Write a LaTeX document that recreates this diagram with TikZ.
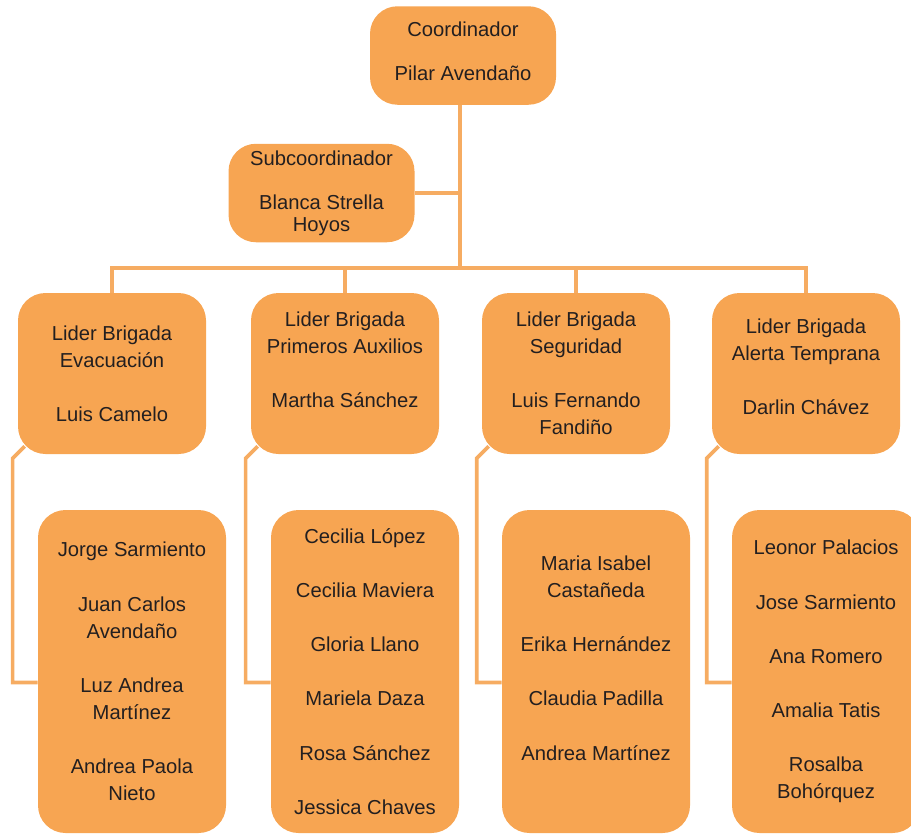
\documentclass[tikz,border=0pt]{standalone}
\usepackage{fontspec}
\setmainfont{Liberation Sans}
\definecolor{naranja}{RGB}{247,165,82}
\definecolor{linea}{RGB}{246,172,98}
\definecolor{texto}{RGB}{35,31,32}
\newcommand{\salto}{\\[15.4pt]}
\begin{document}
\begin{tikzpicture}[
    caja/.style={fill=naranja, rounded corners=0.55cm, align=center, text=texto,
      font=\fontsize{11.5}{15.4}\selectfont, minimum width=3.76cm, inner sep=0pt},
    jefe/.style={caja, minimum width=3.72cm, minimum height=1.97cm},
    lider/.style={caja, minimum height=3.22cm},
    grupo/.style={caja, minimum height=6.46cm},
    enlace/.style={draw=linea, line width=2.1pt}
  ]
    \useasboundingbox (0, 0) rectangle (18.22, -16.68);

    % coordinacion
    \node[jefe] (coord) at (9.26, -1.11) {Coordinador\\[0.34cm]Pilar Avendaño\\[-10.9pt]~};
    \node[jefe] (sub) at (6.43, -3.86) {Subcoordinador\\[0.34cm]Blanca Strella\\[-0.1cm]Hoyos};
    \coordinate (barra) at (9.2, -5.36);

    % lideres de brigada
    \node[lider] (l1) at (2.24, -7.47) {Lider Brigada\\Evacuación\salto Luis Camelo};
    \node[lider] (l2) at (6.90, -7.47) {Lider Brigada\\Primeros Auxilios\salto Martha Sánchez\\ ~};
    \node[lider] (l3) at (11.52, -7.47) {Lider Brigada\\Seguridad\salto Luis Fernando\\Fandiño};
    \node[lider] (l4) at (16.12, -7.47) {Lider Brigada\\Alerta Temprana\salto Darlin Chávez\\[-7.4pt]~};

    % integrantes
    \node[grupo] (m1) at (2.64, -13.43) {Jorge Sarmiento\salto Juan Carlos\\Avendaño\salto
      Luz Andrea\\Martínez\salto Andrea Paola\\Nieto};
    \node[grupo] (m2) at (7.30, -13.43) {Cecilia López\salto Cecilia Maviera\salto Gloria Llano\salto
      Mariela Daza\salto Rosa Sánchez\salto Jessica Chaves};
    \node[grupo] (m3) at (11.92, -13.43) {Maria Isabel\\Castañeda\salto Erika Hernández\salto
      Claudia Padilla\salto Andrea Martínez\\ ~};
    \node[grupo] (m4) at (16.52, -13.43) {Leonor Palacios\salto Jose Sarmiento\salto Ana Romero\salto
      Amalia Tatis\salto Rosalba\\Bohórquez};

    \begin{scope}[on background layer/.try]
    \draw[enlace] (coord.south -| barra) -- (barra);
    \draw[enlace] (sub.east) -- (sub.east -| barra);
    \draw[enlace] (l1.north) -- (l1.north |- barra) -- (l4.north |- barra) -- (l4.north);
    \draw[enlace] (l2.north) -- (l2.north |- barra);
    \draw[enlace] (l3.north) -- (l3.north |- barra);
    \foreach \i in {1,...,4}
      \draw[enlace] ([shift={(0.14,0.16)}]l\i.south west) -- ++(-0.24,-0.24) |- ([yshift=-0.22cm]m\i.west);
    \end{scope}
\end{tikzpicture}
\end{document}
